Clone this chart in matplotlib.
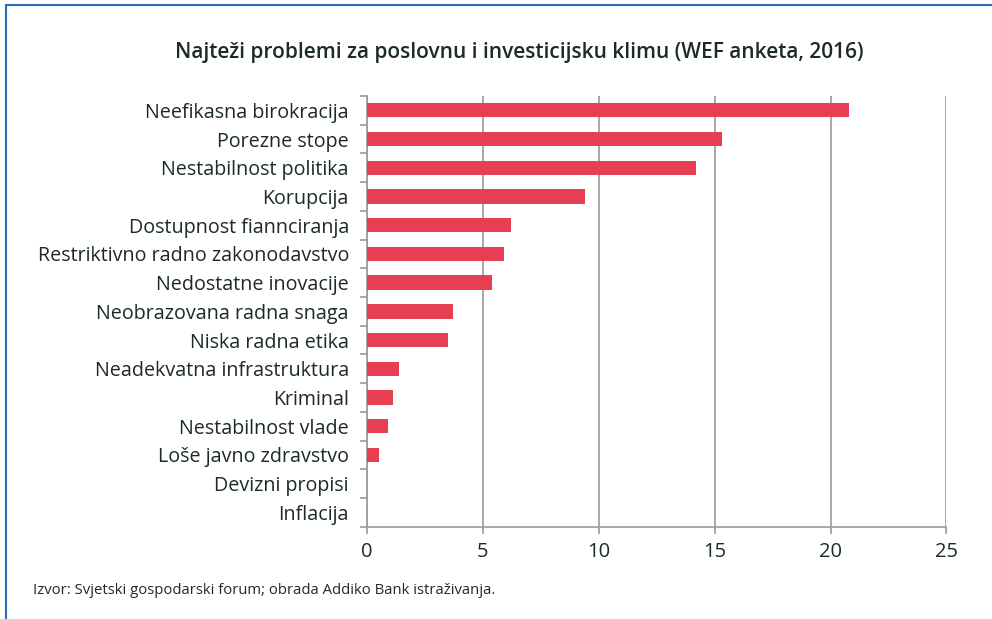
import matplotlib.pyplot as plt
from matplotlib.patches import Rectangle

categories = ["Neefikasna birokracija", "Porezne stope", "Nestabilnost politika",
              "Korupcija", "Dostupnost fiannciranja", "Restriktivno radno zakonodavstvo",
              "Nedostatne inovacije", "Neobrazovana radna snaga", "Niska radna etika",
              "Neadekvatna infrastruktura", "Kriminal", "Nestabilnost vlade",
              "Loše javno zdravstvo", "Devizni propisi", "Inflacija"]
values = [20.8, 15.3, 14.2, 9.4, 6.2, 5.9, 5.4, 3.7, 3.5, 1.4, 1.1, 0.9, 0.5, 0.0, 0.0]
xticks = [0, 5, 10, 15, 20, 25]

text_color = '#1c2b27'
bar_color = '#e63e52'
grid_color = '#9a9a9a'

plt.rcParams['font.family'] = ['Open Sans', 'DejaVu Sans']

fig = plt.figure(figsize=(9.92, 6.19), dpi=100)
ax = fig.add_axes([0.37, 0.149, 0.584, 0.696])

y = list(range(len(categories)))
ax.barh(y, values, height=0.5, color=bar_color, zorder=3)
ax.set_ylim(len(categories) - 0.5, -0.5)
ax.set_xlim(0, 25)
ax.set_xticks(xticks)
ax.set_xticklabels([str(t) for t in xticks], fontsize=14.5, color=text_color)

# tick marks between categories, labels at centers
ax.set_yticks([i + 0.5 for i in range(-1, len(categories))])
ax.set_yticklabels([])
ax.set_yticks(y, minor=True)
ax.set_yticklabels(categories, minor=True, fontsize=14.2, color=text_color)
ax.tick_params(axis='y', which='minor', length=0, pad=13)
ax.tick_params(axis='y', which='major', length=5, color=grid_color, width=1.2)
ax.tick_params(axis='x', length=5, color=grid_color, width=1.2, pad=6)

ax.grid(axis='x', color=grid_color, linewidth=1.2, zorder=0)
for s in ['top', 'right']:
    ax.spines[s].set_visible(False)
for s in ['left', 'bottom']:
    ax.spines[s].set_color(grid_color)
    ax.spines[s].set_linewidth(1.2)

fig.text(0.523, 0.915, "Najteži problemi za poslovnu i investicijsku klimu (WEF anketa, 2016)",
         ha='center', va='center', fontsize=15, fontweight='semibold', color=text_color)
fig.text(0.033, 0.046, "Izvor: Svjetski gospodarski forum; obrada Addiko Bank istraživanja.",
         ha='left', va='center', fontsize=10.7, color=text_color)

# blue frame
fig.patches.append(Rectangle((0.006, -0.05), 1.2, 1.042, transform=fig.transFigure,
                             fill=False, edgecolor='#2a6fb5', linewidth=1.5))

fig.savefig('out.png', dpi=100)
